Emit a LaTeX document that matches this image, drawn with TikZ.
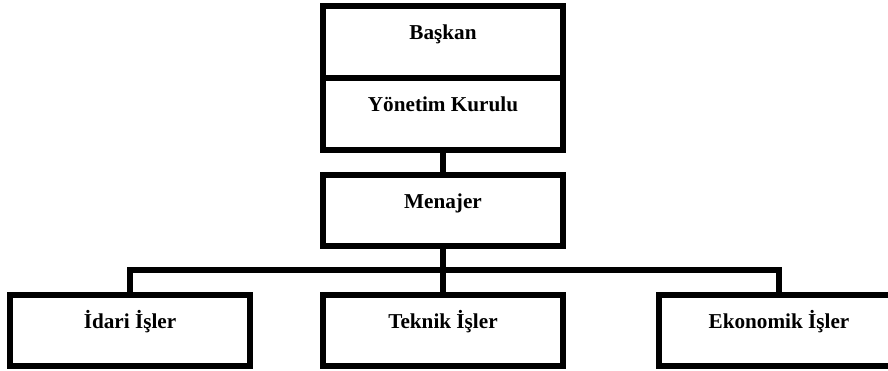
\documentclass[tikz,border=0pt]{standalone}
\usepackage{fontspec}
\setmainfont{Liberation Serif}
\begin{document}
\begin{tikzpicture}[x=1pt,y=-1pt,
  box/.style={draw=black, line width=6pt, rectangle, inner sep=0pt,
    minimum width=240pt, minimum height=72pt},
  lbl/.style={anchor=base, inner sep=0pt, font=\fontsize{21.2}{25}\selectfont\bfseries},
  conn/.style={draw=black, line width=6pt}]
\useasboundingbox (0,0) rectangle (888,371);
\clip (0,0) rectangle (888,371);
\fill[white] (0,0) rectangle (888,371);

\node[box] (baskan) at (443,42) {};
\node[box] (yonetim) at (443,114) {};
\node[box, minimum height=71pt] (menajer) at (443,210.5) {};
\node[box, minimum height=71pt] (idari) at (130,330.5) {};
\node[box, minimum height=71pt] (teknik) at (443,330.5) {};
\node[box, minimum height=71pt, minimum width=300pt] (ekonomik) at (809,330.5) {};

\node[lbl] (tbaskan) at ([yshift=2pt]baskan.center) {Başkan};
\node[lbl] (tyonetim) at ([yshift=2pt]yonetim.center) {Yönetim Kurulu};
\node[lbl] (tmenajer) at ([yshift=2pt]menajer.center) {Menajer};
\node[lbl] (tidari) at ([yshift=2pt]idari.center) {İdari İşler};
\node[lbl] (tteknik) at ([yshift=2pt]teknik.center) {Teknik İşler};
\node[lbl] (tekonomik) at ([xshift=-30pt,yshift=2pt]ekonomik.center) {Ekonomik İşler};

\coordinate (bar) at (443,270);
\coordinate (ektop) at ([xshift=-30pt]ekonomik.north);
\draw[conn] (yonetim.south) -- (menajer.north);
\draw[conn] (menajer.south) -- (bar);
\draw[conn] (idari.north) |- (bar) -| (ektop);
\draw[conn] (bar) -- (teknik.north);
\end{tikzpicture}
\end{document}
